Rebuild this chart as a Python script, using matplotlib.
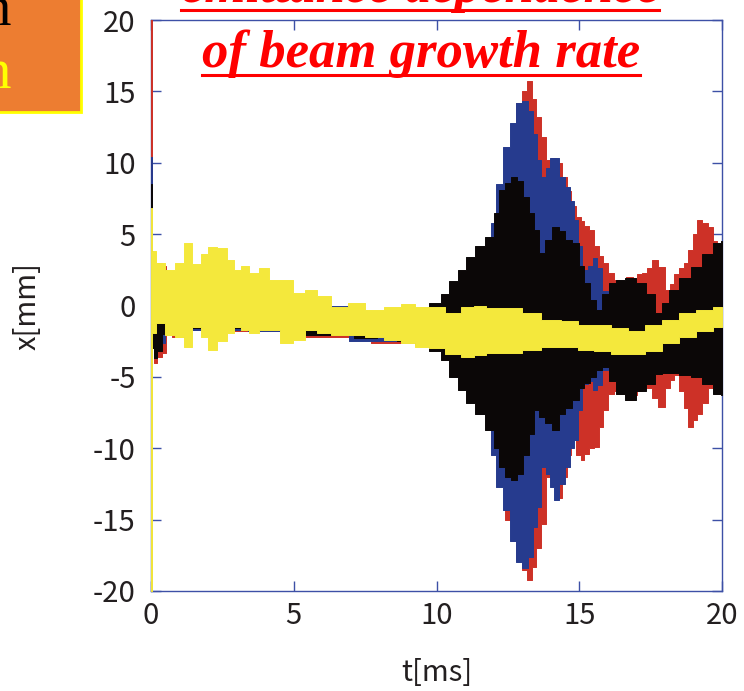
import matplotlib
matplotlib.use("Agg")
import matplotlib.pyplot as plt
from matplotlib.patches import Rectangle
from matplotlib.lines import Line2D

plt.rcParams["axes.unicode_minus"] = False

# Envelopes (lower / upper edge of the oscillation) of x[mm] versus t[ms],
# read off the picture for each of the four runs.
yel_t = [0, 0.05, 0.3, 0.7, 1.0, 1.3, 1.6, 1.9, 2.1, 2.5, 2.8, 3.0, 3.3, 3.6, 4.0,
         4.3, 4.75, 5.2, 5.6, 6.0, 6.6, 7.2, 7.8, 8.5, 9.0, 9.5, 10.0, 10.6, 11.1,
         11.5, 12.0, 12.7, 13.3, 14.0, 14.7, 15.2, 15.8, 16.4, 17.0, 17.6, 18.2,
         18.8, 19.4, 20]
yel_hi = [6.8, 3.8, 3.0, 2.5, 3.0, 4.4, 2.9, 3.6, 4.1, 4.0, 3.2, 2.5, 2.8, 2.3, 2.6,
          1.8, 1.8, 0.9, 1.1, 0.7, -0.1, 0.2, -0.3, -0.1, 0.1, -0.1, -0.1, -0.5, -0.1,
          0.0, -0.2, -0.2, -0.5, -1.0, -1.1, -1.4, -1.4, -1.6, -1.8, -1.4, -1.0,
          -0.5, -0.3, -0.1]
yel_lo = [-20, -1.9, -1.2, -2.1, -2.2, -2.9, -1.5, -2.2, -3.1, -2.5, -1.9, -1.5, -1.7,
          -1.9, -1.7, -1.7, -2.6, -2.4, -1.7, -1.9, -2.1, -2.1, -2.2, -2.4, -2.6, -2.9,
          -3.0, -3.4, -3.6, -3.5, -3.3, -3.3, -3.1, -2.9, -2.9, -3.1, -3.2, -3.4, -3.4,
          -3.2, -2.6, -2.2, -1.8, -1.5]

blk_t = [0, 0.05, 0.15, 0.3, 0.45, 1.0, 2.0, 4.0, 6.6, 7.6, 8.2, 9.0, 9.5, 10.0, 10.3,
         10.6, 10.9, 11.2, 11.5, 11.9, 12.1, 12.3, 12.5, 12.75, 12.9, 13.15, 13.3,
         13.5, 13.7, 13.9, 14.2, 14.4, 14.6, 14.9, 15.1, 15.25, 15.5, 15.7, 15.9,
         16.2, 16.4, 16.8, 17.2, 17.5, 17.8, 18.0, 18.3, 18.7, 19.1, 19.5, 19.9, 20]
blk_hi = [8.5, 1.0, 0.5, 0.5, 0.5, 0.5, 0.5, 0.0, -0.5, -0.6, -0.6, -0.5, -0.3, 0.2,
          0.8, 1.7, 2.5, 3.4, 4.2, 4.8, 6.5, 8.1, 8.6, 9.0, 8.7, 7.6, 6.5, 5.3, 3.7,
          4.6, 5.5, 5.2, 4.6, 4.4, 2.8, 1.6, 0.4, -0.3, 0.8, 1.6, 1.8, 1.9, 1.6, 0.8,
          -0.5, 0.2, 1.1, 1.9, 2.7, 3.6, 4.4, 4.5]
blk_lo = [-20, -3.0, -3.7, -3.2, -2.0, -1.6, -1.6, -1.6, -2.1, -2.3, -2.2, -2.5, -2.8,
          -3.2, -3.8, -5.0, -5.9, -6.8, -7.6, -8.7, -10.0, -11.3, -12.0, -12.2, -11.8,
          -10.5, -9.0, -7.3, -7.8, -8.2, -8.7, -7.6, -7.2, -6.6, -5.8, -5.4, -5.0,
          -4.5, -4.3, -5.3, -6.2, -6.6, -6.0, -5.5, -4.8, -4.7, -4.7, -4.9, -5.0,
          -5.5, -6.2, -6.3]

blu_t = [0, 0.05, 0.2, 0.35, 0.6, 1.5, 5.3, 8.6, 10.0, 11.0, 11.8, 12.0, 12.2, 12.45,
         12.7, 12.9, 13.1, 13.3, 13.45, 13.6, 13.75, 13.9, 14.05, 14.2, 14.4, 14.6,
         14.75, 14.9, 15.0, 15.2, 15.4, 15.55, 15.7, 15.9, 16.1, 16.3, 17.0, 18.0,
         19.0, 20]
blu_hi = [10.4, 1.0, 0.5, 0.5, 0.5, 0.5, 0.0, -0.5, -0.5, 0.0, 4.0, 5.8, 8.5, 11.1,
          12.8, 14.2, 14.3, 13.6, 12.0, 10.2, 9.0, 9.6, 10.3, 10.3, 9.0, 8.3, 7.3, 6.0,
          4.2, 2.5, 2.8, 3.3, 2.6, 1.0, 0.0, 0.5, -0.5, -1.0, 1.5, 3.0]
blu_lo = [-20, -2.5, -3.0, -2.6, -2.0, -1.7, -1.8, -2.5, -2.5, -5.0, -7.6, -10.5,
          -12.7, -14.3, -16.5, -18.0, -18.4, -17.6, -15.5, -14.1, -11.3, -11.8, -12.7,
          -13.6, -12.5, -11.3, -10.0, -9.4, -7.3, -5.5, -5.3, -5.9, -5.6, -4.5, -4.0,
          -4.5, -5.0, -4.5, -4.5, -5.0]

red_t = [0, 0.05, 0.15, 0.3, 0.45, 0.6, 0.9, 1.5, 3.0, 6.8, 8.6, 10.0, 11.0, 11.8,
         12.0, 12.3, 12.5, 12.7, 12.9, 13.1, 13.27, 13.4, 13.55, 13.75, 13.95, 14.1,
         14.3, 14.5, 14.65, 14.8, 15.0, 15.1, 15.25, 15.4, 15.6, 15.75, 15.9, 16.1,
         16.3, 16.5, 16.8, 16.95, 17.1, 17.3, 17.45, 17.65, 17.9, 18.1, 18.25, 18.4,
         18.6, 18.75, 18.9, 19.05, 19.2, 19.4, 19.6, 19.75, 19.9, 20]
red_hi = [20, 1.0, 1.5, 3.0, 2.8, 0.5, 0.5, 0.5, 0.5, -0.5, -0.5, -0.5, 0.0, 3.5, 4.0,
          8.0, 11.0, 12.5, 14.2, 15.0, 15.7, 14.5, 13.2, 11.8, 10.2, 10.3, 10.0, 9.0,
          8.0, 7.0, 6.2, 5.9, 5.6, 5.3, 4.2, 3.5, 3.0, 2.3, 1.8, 1.7, 2.0, 1.9, 2.2,
          2.3, 2.6, 3.2, 2.7, 1.1, 1.5, 2.2, 2.6, 3.0, 3.9, 5.0, 6.0, 5.8, 5.5, 4.5,
          3.9, 3.5]
red_lo = [-20, -2.5, -4.0, -3.6, -3.3, -2.1, -2.2, -1.7, -1.8, -2.2, -2.6, -2.5, -5.0,
          -7.6, -10.0, -12.5, -15.0, -16.5, -17.8, -18.5, -19.2, -18.3, -17.0, -15.3,
          -12.0, -12.5, -13.5, -12.0, -10.5, -9.4, -10.5, -10.8, -10.4, -10.0, -9.9,
          -8.5, -7.3, -6.2, -6.0, -6.2, -6.6, -6.3, -6.0, -5.5, -5.8, -6.5, -7.1, -5.8,
          -5.2, -4.9, -6.0, -7.2, -8.5, -8.0, -7.6, -6.8, -5.8, -5.5, -5.2, -5.0]

x_ticks = [0, 5, 10, 15, 20]
y_ticks = [-20, -15, -10, -5, 0, 5, 10, 15, 20]

RED = "#cd3127"
BLUE = "#263b8e"
BLACK = "#0b0707"
YELLOW = "#f4e83c"
AXIS = "#3d50a6"

W, H = 744, 691
fig = plt.figure(figsize=(W / 100, H / 100), dpi=100)
ax = fig.add_axes([151 / W, 1 - 591 / H, 571 / W, 571 / H])

# drawn back to front: red, blue, black, yellow
for t, lo, hi, c in [(red_t, red_lo, red_hi, RED),
                     (blu_t, blu_lo, blu_hi, BLUE),
                     (blk_t, blk_lo, blk_hi, BLACK),
                     (yel_t, yel_lo, yel_hi, YELLOW)]:
    ax.fill_between(t, lo, hi, step="mid", facecolor=c, edgecolor=c,
                    linewidth=0.7, zorder=3)

ax.set_xlim(0, 20)
ax.set_ylim(-20, 20)
ax.set_xticks(x_ticks)
ax.set_yticks(y_ticks)
for s in ax.spines.values():
    s.set_color(AXIS)
    s.set_linewidth(1.0)
ax.tick_params(direction="in", length=7, width=1, color=AXIS, top=True, right=True,
               labelsize=21, labelcolor="#231f20")
ax.tick_params(axis="x", pad=7)
ax.tick_params(axis="y", pad=11)
for lab in ax.get_xticklabels() + ax.get_yticklabels():
    lab.set_family("Noto Sans CJK JP")

ax.set_xlabel("t[ms]", fontsize=21, color="#231f20", family="Noto Sans CJK JP", va="center")
ax.xaxis.set_label_coords(0.5, (591 - 673) / 571)
ax.set_ylabel("x[mm]", fontsize=21, color="#231f20", family="Noto Sans CJK JP", va="center")
ax.yaxis.set_label_coords((27.5 - 151) / 571, 0.5)

# orange note box cut at the top-left corner
fig.patches.append(Rectangle((-0.01, 1 - 112 / H), 0.01 + 81 / W, 112 / H + 0.01,
                             transform=fig.transFigure, facecolor="#ed7d31",
                             edgecolor="#ffff00", linewidth=2.0))
fig.text(11 / W, 1 - 25 / H, "n", ha="right", va="baseline", fontsize=41,
         family="Liberation Serif", color="black")
fig.text(11 / W, 1 - 88 / H, "n", ha="right", va="baseline", fontsize=41,
         family="Liberation Serif", color="#ffff00")

# red underlined title, first line cut by the top edge
tfont = dict(fontsize=38, family="Liberation Serif", weight="bold", style="italic",
             color="#ff0000", ha="center", va="baseline")
t1 = fig.text(420 / W, 1 - 2 / H, "emittance dependence", **tfont)
t2 = fig.text(421 / W, 1 - 67 / H, "of beam growth rate", **tfont)

fig.canvas.draw()
r = fig.canvas.get_renderer()
for txt, uy in [(t1, 10), (t2, 75)]:
    bb = txt.get_window_extent(r)
    fig.lines.append(Line2D([bb.x0 / W, bb.x1 / W], [1 - uy / H, 1 - uy / H],
                            transform=fig.transFigure, color="#ff0000", linewidth=2.2))

fig.savefig("out.png", dpi=100)
